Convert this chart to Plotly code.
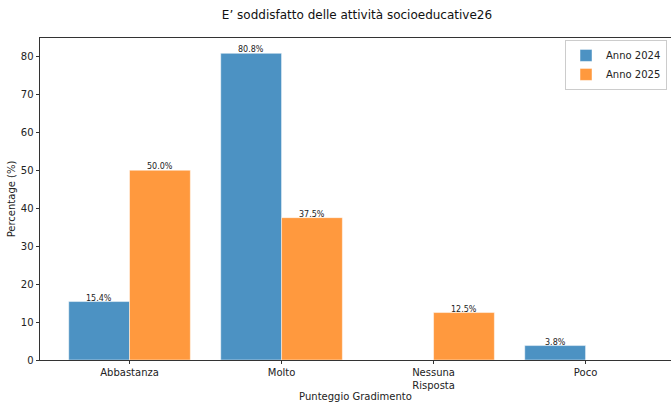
import plotly.graph_objects as go

categories = ["Abbastanza", "Molto", "Nessuna<br>Risposta", "Poco"]
anno_2024 = [15.4, 80.8, 0.0, 3.8]
anno_2025 = [50.0, 37.5, 12.5, 0.0]
series_names = ["Anno 2024", "Anno 2025"]
title_text = "E’ soddisfatto delle attività socioeducative26"

FONT = "DejaVu Sans, Liberation Sans, sans-serif"
xs = list(range(len(categories)))
BAR_W = 0.4

W, H = 671, 406

fig = go.Figure()
fig.add_trace(go.Bar(x=[x - BAR_W / 2 for x in xs], y=anno_2024, name=series_names[0], width=BAR_W,
                     marker=dict(color="rgba(31,119,180,0.8)", line=dict(color="rgba(255,255,255,0.6)", width=0.8))))
fig.add_trace(go.Bar(x=[x + BAR_W / 2 for x in xs], y=anno_2025, name=series_names[1], width=BAR_W,
                     marker=dict(color="rgba(255,127,14,0.8)", line=dict(color="rgba(255,255,255,0.6)", width=0.8))))

annotations = []
for off, vals in ((-BAR_W / 2, anno_2024), (BAR_W / 2, anno_2025)):
    for x, v in zip(xs, vals):
        if v > 0:
            annotations.append(dict(x=x + off, y=v, xref="x", yref="y", text=f"{v:.1f}%",
                                    showarrow=False, yanchor="bottom", yshift=-3,
                                    font=dict(size=8, color="#222")))

fig.update_layout(
    width=W, height=H,
    margin=dict(l=40, r=0, t=38, b=46, autoexpand=False),
    paper_bgcolor="white", plot_bgcolor="white",
    font=dict(family=FONT, size=10, color="#222"),
    barmode="overlay",
    title=dict(text=title_text, x=357 / W, xanchor="center", y=1 - 15 / H, yanchor="middle",
               font=dict(size=12, color="#111")),
    legend=dict(x=0.9937, xanchor="right", y=0.994, yanchor="top",
                bordercolor="#cccccc", borderwidth=1, bgcolor="rgba(255,255,255,0.8)",
                font=dict(size=10), tracegroupgap=0, itemwidth=30),
    annotations=annotations,
)
fig.update_xaxes(range=[-0.589, 3.562], tickmode="array", tickvals=xs, ticktext=categories,
                 showline=True, linecolor="#333", linewidth=0.8, mirror=True, automargin=False,
                 ticks="outside", ticklen=3.5, tickcolor="#333", showgrid=False, zeroline=False,
                 title=dict(text="Punteggio Gradimento", font=dict(size=10), standoff=2))
fig.update_yaxes(range=[0, 84.84], tickmode="array", tickvals=[0, 10, 20, 30, 40, 50, 60, 70, 80],
                 showline=True, linecolor="#333", linewidth=0.8, automargin=False,
                 ticks="outside", ticklen=3.5, tickcolor="#333", showgrid=False, zeroline=False,
                 title=dict(text="Percentage (%)", font=dict(size=10), standoff=3))

fig.write_html("out.html", config={"displayModeBar": False},
               post_script="document.body.style.margin='0';document.body.style.overflow='hidden';")
